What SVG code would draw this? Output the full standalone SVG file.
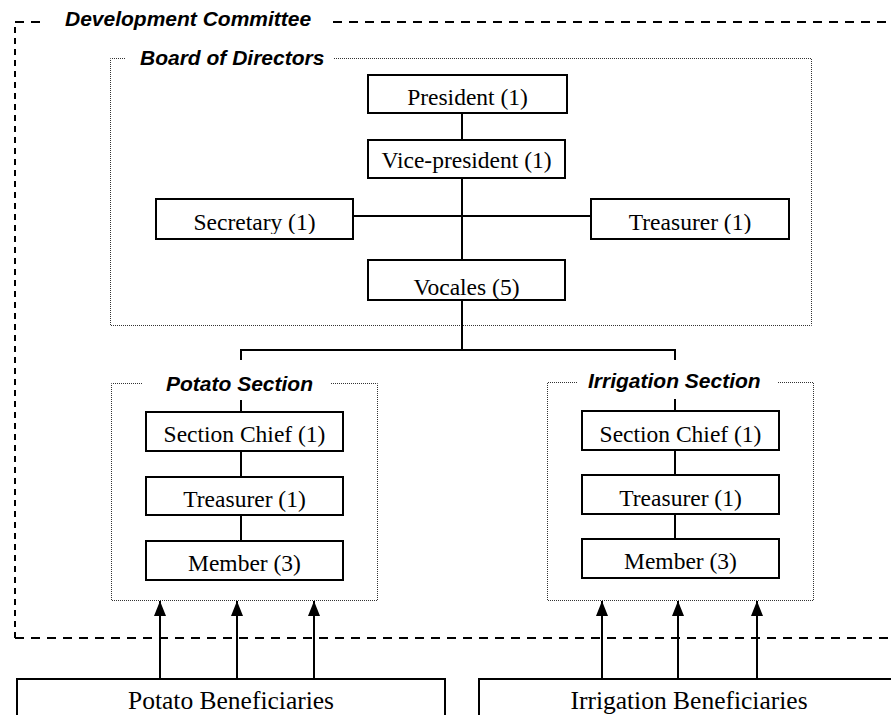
<svg xmlns="http://www.w3.org/2000/svg" width="891" height="715" viewBox="0 0 891 715">
  <style>
    .box { fill: #fff; stroke: #000; stroke-width: 2; }
    .lbl { font-family: "Liberation Serif", "Times New Roman", serif; font-size: 23.5px; fill: #000; text-anchor: middle; }
    .ben { font-family: "Liberation Serif", "Times New Roman", serif; font-size: 25.5px; fill: #000; text-anchor: middle; }
    .grp { font-family: "Liberation Sans", Arial, sans-serif; font-size: 21px; font-weight: bold; font-style: italic; fill: #000; }
    .dash-h { fill: none; stroke: #000; stroke-width: 2; stroke-dasharray: 9 7; }
    .dash-v { fill: none; stroke: #000; stroke-width: 2; stroke-dasharray: 6 5; }
    .dot { fill: none; stroke: #333; stroke-width: 1; stroke-dasharray: 1 1; }
    .wire { fill: none; stroke: #000; stroke-width: 2; }
  </style>
  <defs>
    <!-- triangle head pointing along the path direction -->
    <marker id="arrow" markerUnits="userSpaceOnUse" markerWidth="16" markerHeight="14" viewBox="0 0 16 14" refX="15" refY="7" orient="auto">
      <polygon points="15,7 0,1 0,13" fill="#000"/>
    </marker>
    <clipPath id="clip-row"><rect x="0" y="199" width="891" height="35"/></clipPath>
  </defs>

  <rect width="891" height="715" fill="#fff"/>

  <!-- Development Committee frame (dashed, open to the right) -->
  <g id="development-committee">
    <path class="dash-v" d="M15,638 V22"/>
    <path class="dash-h" d="M15,22 H40 M333,22 H891 M15,638 H891"/>
    <text class="grp" x="65" y="26">Development Committee</text>
  </g>

  <!-- Board of Directors frame (dotted) -->
  <g id="board-of-directors">
    <path class="dot" d="M125,58.5 H110.5 V325.5 H811.5 V58.5 H333"/>
    <text class="grp" x="140" y="65">Board of Directors</text>
  </g>

  <!-- Section frames (dotted) -->
  <g id="potato-section">
    <path class="dot" d="M142,383.5 H111.5 V600.5 H377.5 V383.5 H330"/>
    <text class="grp" x="166" y="391">Potato Section</text>
  </g>
  <g id="irrigation-section">
    <path class="dot" d="M577,382.5 H547.5 V600.5 H813.5 V382.5 H778"/>
    <text class="grp" x="588" y="388">Irrigation Section</text>
  </g>

  <!-- Connectors -->
  <g id="connectors">
    <path class="wire" d="M462,113 V140 M462,178 V260 M353,216 H591 M462,300 V350 M241,350 H675"/>
    <path class="wire" d="M241,349 V360 M241,400 V412 M675,349 V360 M675,399 V411"/>
    <path class="wire" d="M241,451 V477 M241,515 V541 M675,450 V475 M675,514 V539"/>
    <path class="wire" marker-end="url(#arrow)" d="M160,679 V601"/>
    <path class="wire" marker-end="url(#arrow)" d="M237,679 V601"/>
    <path class="wire" marker-end="url(#arrow)" d="M314,679 V601"/>
    <path class="wire" marker-end="url(#arrow)" d="M602,679 V601"/>
    <path class="wire" marker-end="url(#arrow)" d="M678,679 V601"/>
    <path class="wire" marker-end="url(#arrow)" d="M757,679 V601"/>
  </g>

  <!-- Board positions -->
  <g id="president">
    <rect class="box" x="368" y="75" width="199" height="38"/>
    <text class="lbl" x="467.5" y="105">President (1)</text>
  </g>
  <g id="vice-president">
    <rect class="box" x="368" y="140" width="197" height="38"/>
    <text class="lbl" x="466.5" y="168">Vice-president (1)</text>
  </g>
  <g id="secretary">
    <rect class="box" x="156" y="199" width="197" height="40"/>
    <text class="lbl" x="254.5" y="230" clip-path="url(#clip-row)">Secretary (1)</text>
  </g>
  <g id="treasurer">
    <rect class="box" x="591" y="199" width="198" height="40"/>
    <text class="lbl" x="690" y="230" clip-path="url(#clip-row)">Treasurer (1)</text>
  </g>
  <g id="vocales">
    <rect class="box" x="368" y="260" width="197" height="40"/>
    <text class="lbl" x="466.5" y="295">Vocales (5)</text>
  </g>

  <!-- Potato section positions -->
  <g id="potato-chief">
    <rect class="box" x="146" y="412" width="197" height="39"/>
    <text class="lbl" x="244.5" y="442">Section Chief (1)</text>
  </g>
  <g id="potato-treasurer">
    <rect class="box" x="146" y="477" width="197" height="38"/>
    <text class="lbl" x="244.5" y="507">Treasurer (1)</text>
  </g>
  <g id="potato-member">
    <rect class="box" x="146" y="541" width="197" height="39"/>
    <text class="lbl" x="244.5" y="571">Member (3)</text>
  </g>

  <!-- Irrigation section positions -->
  <g id="irrigation-chief">
    <rect class="box" x="582" y="411" width="197" height="39"/>
    <text class="lbl" x="680.5" y="442">Section Chief (1)</text>
  </g>
  <g id="irrigation-treasurer">
    <rect class="box" x="582" y="475" width="197" height="39"/>
    <text class="lbl" x="680.5" y="506">Treasurer (1)</text>
  </g>
  <g id="irrigation-member">
    <rect class="box" x="582" y="539" width="197" height="39"/>
    <text class="lbl" x="680.5" y="569">Member (3)</text>
  </g>

  <!-- Beneficiary groups -->
  <g id="potato-beneficiaries">
    <rect class="box" x="17" y="679" width="428" height="50"/>
    <text class="ben" x="231" y="709">Potato Beneficiaries</text>
  </g>
  <g id="irrigation-beneficiaries">
    <rect class="box" x="479" y="679" width="420" height="50"/>
    <text class="ben" x="689" y="709">Irrigation Beneficiaries</text>
  </g>
</svg>
